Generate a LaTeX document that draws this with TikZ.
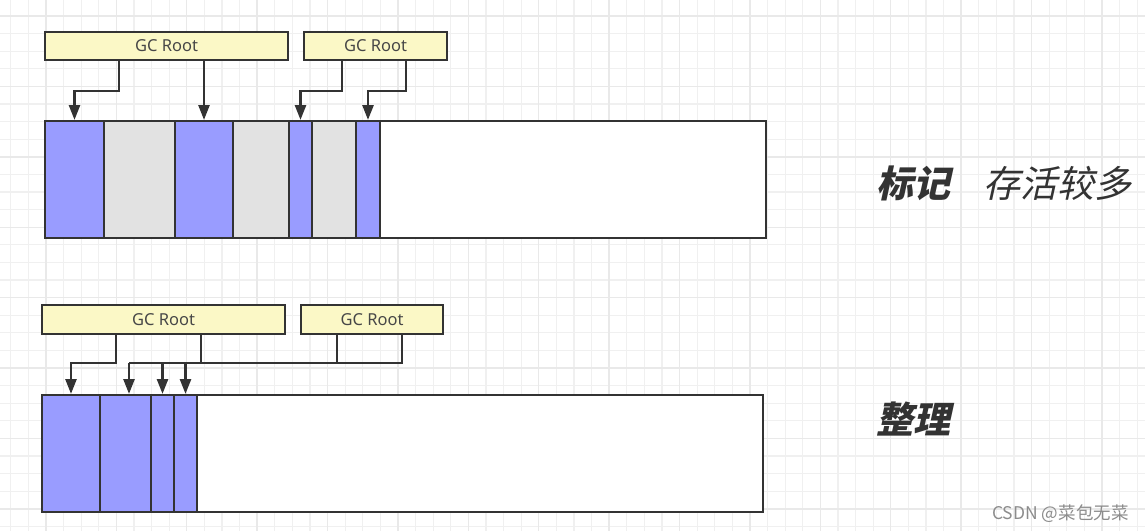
\documentclass[tikz,border=0pt]{standalone}
\usepackage{fontspec}
\setmainfont{Noto Sans}
\newfontfamily\cjk{Noto Sans CJK SC}[FakeSlant=0.22]
\newfontfamily\cjkplain{Noto Sans CJK SC}
\usetikzlibrary{arrows.meta,calc}
\definecolor{gridminor}{HTML}{F0F0F0}
\definecolor{gridmajor}{HTML}{E9E9E9}
\definecolor{live}{HTML}{999CFF}
\definecolor{dead}{HTML}{E2E2E2}
\definecolor{rootfill}{HTML}{FBF8C6}
\definecolor{ink}{HTML}{333333}
\tikzset{
  cellbox/.style={draw=ink, line width=2.6pt, inner sep=0pt, outer sep=0pt, anchor=north west, minimum height=117pt},
  livecell/.style={cellbox, fill=live},
  deadcell/.style={cellbox, fill=dead},
  freecell/.style={cellbox, fill=white},
  rootbox/.style={draw=ink, line width=2.6pt, fill=rootfill, inner sep=0pt, outer sep=0pt, minimum height=28pt, text=ink!90, font=\fontsize{16.5}{16.5}\selectfont},
  link/.style={draw=ink, line width=2.6pt},
  arr/.style={link, -{Triangle[width=11pt,length=15pt]}, shorten >=1pt},
  bigtxt/.style={inner sep=0pt, anchor=base west, text=ink, font=\fontsize{37}{37}\selectfont}
}
\begin{document}
\begin{tikzpicture}[x=1pt,y=-1pt]
\useasboundingbox (0,0) rectangle (1145,531);
\fill[white] (0,0) rectangle (1145,531);
% grid
\foreach \i in {0,...,64} {\draw[gridminor, line width=1.2pt] ({10.7+17.6*\i},0) -- ({10.7+17.6*\i},531);}
\foreach \i in {0,...,30} {\draw[gridminor, line width=1.2pt] (0,{16+17.6*\i}) -- (1145,{16+17.6*\i});}
\foreach \i in {0,...,16} {\draw[gridmajor, line width=1.4pt] ({45.9+70.4*\i},0) -- ({45.9+70.4*\i},531);}
\foreach \i in {0,...,7} {\draw[gridmajor, line width=1.4pt] (0,{16+70.4*\i}) -- (1145,{16+70.4*\i});}

% ---------- top: mark ----------
\node[freecell, minimum width=386pt] (c8) at (380,121) {};
\node[livecell, minimum width=59pt] (c1) at (45,121) {};
\node[deadcell, minimum width=71pt] (c2) at (104,121) {};
\node[livecell, minimum width=58pt] (c3) at (175,121) {};
\node[deadcell, minimum width=56pt] (c4) at (233,121) {};
\node[livecell, minimum width=23pt] (c5) at (289,121) {};
\node[deadcell, minimum width=44pt] (c6) at (312,121) {};
\node[livecell, minimum width=24pt] (c7) at (356,121) {};

\node[rootbox, minimum width=243pt] (r1) at (166.5,46) {GC Root};
\node[rootbox, minimum width=143pt] (r2) at (375.5,46) {GC Root};

\draw[arr] ($(r1.south west)+(74,0)$) |- ([yshift=30pt]c1.north) -- (c1.north);
\draw[arr] (c3.north |- r1.south) -- (c3.north);
\draw[arr] ($(r2.south west)+(38,0)$) |- ([yshift=30pt]c5.north) -- (c5.north);
\draw[arr] ($(r2.south west)+(102,0)$) |- ([yshift=30pt]c7.north) -- (c7.north);

\node[bigtxt, font=\fontsize{37}{37}\selectfont\cjk\bfseries] (t1) at (876,197) {标记};
\node[bigtxt, font=\fontsize{37}{37}\selectfont\cjk] (t2) at (983,197) {存活较多};

% ---------- bottom: compact ----------
\node[freecell, minimum width=566pt] (d5) at (197,395) {};
\node[livecell, minimum width=58pt] (d1) at (42,395) {};
\node[livecell, minimum width=51pt] (d2) at (100,395) {};
\node[livecell, minimum width=23pt] (d3) at (151,395) {};
\node[livecell, minimum width=23pt] (d4) at (174,395) {};

\node[rootbox, minimum width=243pt, minimum height=29pt] (q1) at (163.5,319.5) {GC Root};
\node[rootbox, minimum width=142pt, minimum height=29pt] (q2) at (372,319.5) {GC Root};

\coordinate (h) at ([xshift=3.5pt,yshift=32pt]d2.north);
\draw[arr] ($(q1.south west)+(74,0)$) |- ([yshift=32pt]d1.north) -- (d1.north);
\draw[link] ($(q2.south west)+(101,0)$) |- (h);
\draw[link] ($(q2.south west)+(36,0)$) coordinate (s1) -- (s1 |- h);
\draw[link] ($(q1.south west)+(159,0)$) coordinate (s2) -- (s2 |- h);
\draw[arr] (h) -- (h |- d2.north);
\draw[arr] (d3.north |- h) -- (d3.north);
\draw[arr] (d4.north |- h) -- (d4.north);

\node[bigtxt, font=\fontsize{37}{37}\selectfont\cjk\bfseries] (t3) at (876,433) {整理};

\node[inner sep=0pt, anchor=base west, text=black!45, font=\fontsize{17.5}{17.5}\selectfont\cjkplain] (wm) at (992,519) {CSDN @菜包无菜};
\end{tikzpicture}
\end{document}
